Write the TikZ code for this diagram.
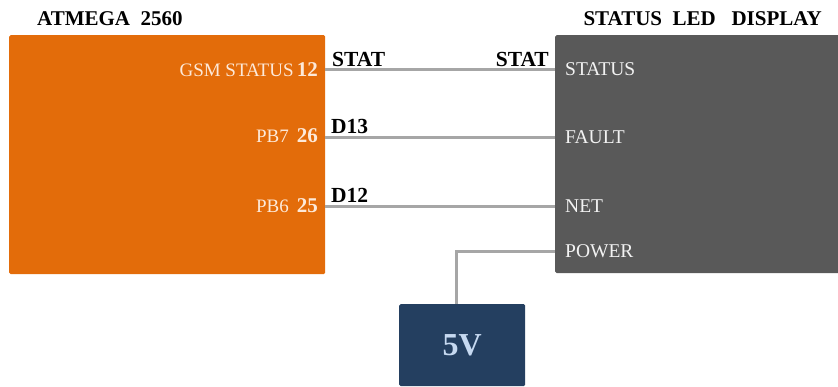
\documentclass[tikz,border=0pt]{standalone}
\usepackage{fontspec}
\setmainfont{Liberation Serif}
\definecolor{orng}{HTML}{E36C0A}
\definecolor{dgray}{HTML}{595959}
\definecolor{navy}{HTML}{243F60}
\definecolor{wire}{HTML}{A6A6A6}
\definecolor{otext}{HTML}{FDE9D9}
\definecolor{gtext}{HTML}{F2F2F2}
\definecolor{vtext}{HTML}{C6D9F1}
\begin{document}
\begin{tikzpicture}[x=1pt,y=-1pt,
  blk/.style={draw=none,rounded corners=1.5pt,inner sep=0pt},
  head/.style={font=\fontsize{21}{21}\selectfont\bfseries,inner sep=0pt,anchor=base west},
  pinl/.style={font=\fontsize{19}{19}\selectfont,text=otext,inner sep=0pt,anchor=base east},
  displ/.style={font=\fontsize{19.5}{19.5}\selectfont,text=gtext,inner sep=0pt,anchor=base west},
  sig/.style={font=\fontsize{21.5}{21.5}\selectfont\bfseries,inner sep=0pt},
  wirel/.style={draw=wire,line width=3pt}]
\useasboundingbox (0,0) rectangle (838,387);
% boxes
\node[blk,fill=orng,minimum width=316,minimum height=239,anchor=north west] (atm) at (9,35) {};
\node[blk,fill=dgray,minimum width=300,minimum height=238,anchor=north west] (disp) at (555,35) {};
\node[blk,fill=navy,minimum width=126,minimum height=82,anchor=north west] (v5) at (399,304) {};
\node[font=\fontsize{32}{32}\selectfont\bfseries,text=vtext] (v5t) at (v5.center) {5V};
% headings
\node[head] (hatm) at (37,26) {ATMEGA\ \ 2560};
\node[head,anchor=base east] (hdisp) at (822,26) {STATUS\ \ LED\ \ \ DISPLAY};
% pin labels
\newcommand{\pn}[1]{\,{\fontsize{21}{21}\selectfont\bfseries #1}}
\node[pinl] (p12) at (318,77) {GSM STATUS\pn{12}};
\node[pinl] (p26) at (318,143) {PB7\ \pn{26}};
\node[pinl] (p25) at (318,213) {PB6\ \pn{25}};
% display labels
\node[displ] (sstat) at (565,76) {STATUS};
\node[displ] (sfault) at (565,144) {FAULT};
\node[displ] (snet) at (565,213) {NET};
\node[displ] (spow) at (565,258) {POWER};
% coordinates on wires
\coordinate (w1) at (325,70);
\coordinate (w2) at (325,138);
\coordinate (w3) at (325,207);
\coordinate (wp) at (555,252);
\coordinate (wc) at (456,252);
% wires
\draw[wirel] (w1) -- (disp.west |- w1);
\draw[wirel] (w2) -- (disp.west |- w2);
\draw[wirel] (w3) -- (disp.west |- w3);
\draw[wirel] (wp) -- (wc) -- (wc |- v5.north);
% signal names
\node[sig,anchor=base west] (st1) at (332,67) {STAT};
\node[sig,anchor=base east] (st2) at (549,67) {STAT};
\node[sig,anchor=base west] (d13) at (331,134) {D13};
\node[sig,anchor=base west] (d12) at (331,203) {D12};
\end{tikzpicture}
\end{document}
